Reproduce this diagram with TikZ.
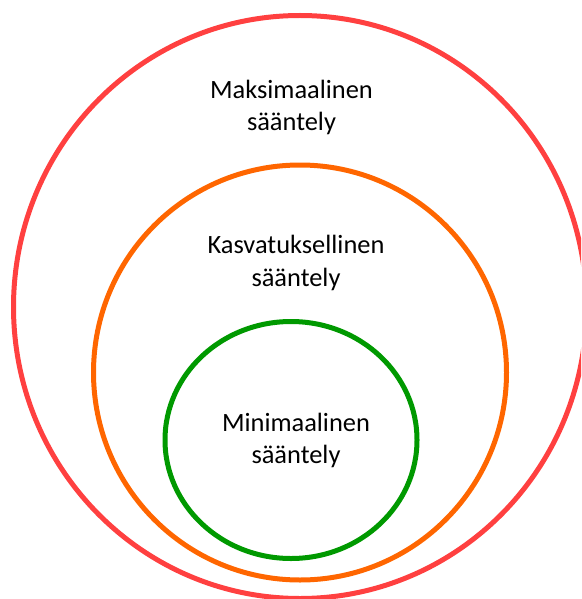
\documentclass[tikz,border=0pt]{standalone}
\usepackage{fontspec}
\setmainfont{Carlito}
\definecolor{ringred}{RGB}{255,64,64}
\definecolor{ringorange}{RGB}{255,102,0}
\definecolor{ringgreen}{RGB}{0,153,0}
\begin{document}
\begin{tikzpicture}[x=1pt,y=-1pt,
  ring/.style={line width=5pt},
  lbl/.style={align=center,inner sep=0pt,anchor=base,font=\fontsize{26.4}{32.5}\selectfont,text=black}]
\useasboundingbox (0,0) rectangle (581,599);
\clip (0,0) rectangle (581,599);
\coordinate (cmax) at (300,307);
\coordinate (ckas) at (300,372.5);
\coordinate (cmin) at (291,440);
\draw[ring,ringred] (cmax) ellipse [x radius=286.5, y radius=291.5];
\draw[ring,ringorange] (ckas) ellipse [x radius=206.5, y radius=207.5];
\draw[ring,ringgreen] (cmin) ellipse [x radius=126, y radius=118.5];
\node[lbl] (tmax) at (291.5,131) {Maksimaalinen\\sääntely};
\node[lbl] (tkas) at (296,286) {Kasvatuksellinen\\sääntely};
\node[lbl] (tmin) at (296,463.5) {Minimaalinen\\sääntely};
\end{tikzpicture}
\end{document}
